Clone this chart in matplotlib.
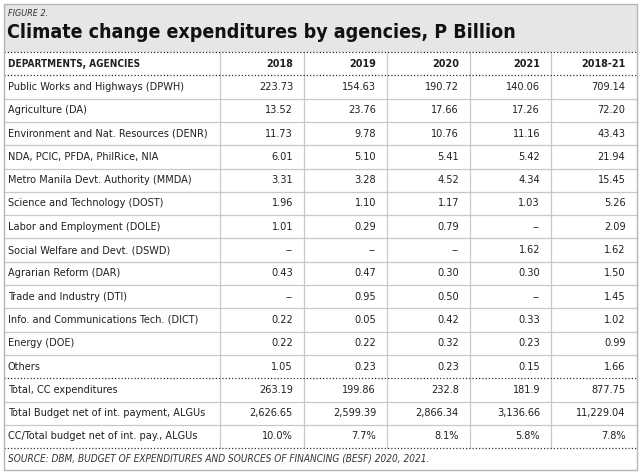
import matplotlib
matplotlib.use("Agg")
import matplotlib.pyplot as plt
from matplotlib import font_manager as fm
from matplotlib.patches import Rectangle

# ---------------- data ----------------
title = "Climate change expenditures by agencies, P Billion"
figure_label = "FIGURE 2."
source = "SOURCE: DBM, BUDGET OF EXPENDITURES AND SOURCES OF FINANCING (BESF) 2020, 2021."
col_headers = ["DEPARTMENTS, AGENCIES", "2018", "2019", "2020", "2021", "2018-21"]
agencies = [
    "Public Works and Highways (DPWH)",
    "Agriculture (DA)",
    "Environment and Nat. Resources (DENR)",
    "NDA, PCIC, PFDA, PhilRice, NIA",
    "Metro Manila Devt. Authority (MMDA)",
    "Science and Technology (DOST)",
    "Labor and Employment (DOLE)",
    "Social Welfare and Devt. (DSWD)",
    "Agrarian Reform (DAR)",
    "Trade and Industry (DTI)",
    "Info. and Communications Tech. (DICT)",
    "Energy (DOE)",
    "Others",
    "Total, CC expenditures",
    "Total Budget net of int. payment, ALGUs",
    "CC/Total budget net of int. pay., ALGUs",
]
v2018 = ["223.73", "13.52", "11.73", "6.01", "3.31", "1.96", "1.01", "--", "0.43", "--",
         "0.22", "0.22", "1.05", "263.19", "2,626.65", "10.0%"]
v2019 = ["154.63", "23.76", "9.78", "5.10", "3.28", "1.10", "0.29", "--", "0.47", "0.95",
         "0.05", "0.22", "0.23", "199.86", "2,599.39", "7.7%"]
v2020 = ["190.72", "17.66", "10.76", "5.41", "4.52", "1.17", "0.79", "--", "0.30", "0.50",
         "0.42", "0.32", "0.23", "232.8", "2,866.34", "8.1%"]
v2021 = ["140.06", "17.26", "11.16", "5.42", "4.34", "1.03", "--", "1.62", "0.30", "--",
         "0.33", "0.23", "0.15", "181.9", "3,136.66", "5.8%"]
v1821 = ["709.14", "72.20", "43.43", "21.94", "15.45", "5.26", "2.09", "1.62", "1.50", "1.45",
         "1.02", "0.99", "1.66", "877.75", "11,229.04", "7.8%"]
columns = [v2018, v2019, v2020, v2021, v1821]

# ---------------- fonts ----------------
def _w(f):
    w = f.weight
    if isinstance(w, str):
        w = fm.weight_dict.get(w, 400)
    return int(w)

def _narrow(f):
    s = f.stretch
    if isinstance(s, str):
        s = fm.stretch_dict.get(s, 500) if hasattr(fm, "stretch_dict") else 500
    return ("Narrow" in f.name or "Condensed" in f.name or "Cond" in f.name
            or (isinstance(s, (int, float)) and s < 500))

def pick(bold, prefer_narrow=True, italic=False):
    fonts = [f for f in fm.fontManager.ttflist
             if (f.style != "normal") == italic]
    want = (lambda w: w >= 600) if bold else (lambda w: w <= 400)
    if prefer_narrow:
        c = [f for f in fonts if _narrow(f) and want(_w(f))]
        if c:
            c.sort(key=lambda f: abs(_w(f) - (700 if bold else 350)))
            return c[0].fname
    for fam in ["Roboto", "Liberation Sans", "Lato", "DejaVu Sans"]:
        c = [f for f in fonts if f.name == fam and want(_w(f))]
        if c:
            c.sort(key=lambda f: abs(_w(f) - (700 if bold else 350)))
            return c[0].fname
    return None

f_reg = pick(False)
f_bold = pick(True)
f_ital = pick(False, italic=True) or f_reg

def fp(path, size):
    if path:
        return fm.FontProperties(fname=path, size=size)
    return fm.FontProperties(size=size)

# ---------------- layout (pixels) ----------------
W, H = 640, 472
fig = plt.figure(figsize=(W / 100, H / 100), dpi=100)
ax = fig.add_axes([0, 0, 1, 1])
ax.set_xlim(0, W)
ax.set_ylim(H, 0)
ax.axis("off")
renderer = fig.canvas.get_renderer()

def fit_size(text, path, target_px, base=10.0):
    t = ax.text(0, 0, text, fontproperties=fp(path, base))
    w = t.get_window_extent(renderer).width
    t.remove()
    return base * target_px / w

left, right = 3.5, 636.5
top, band_bottom = 3.5, 52.0
row_h = 23.3
n_rows = len(agencies) + 1
table_bottom = band_bottom + n_rows * row_h
bottom = 469.5
col_lines = [220, 304, 387, 470, 551]
col_rights = col_lines[1:] + [right]
pad = 11

text_color = "#231f20"
grid_color = "#c8c8c8"

body_size = fit_size(agencies[2], f_reg, 200)
title_size = fit_size(title, f_bold, 505)
head_size = fit_size(col_headers[0], f_bold, 131)
small_size = fit_size(source, f_ital, 420)
fig_size = fit_size(figure_label, f_ital, 40)

# title band
ax.add_patch(Rectangle((left, top), right - left, band_bottom - top,
                       facecolor="#e6e6e6", edgecolor="none", zorder=0))
# outer frame
ax.add_patch(Rectangle((left, top), right - left, bottom - top,
                       facecolor="none", edgecolor="#b5b5b5", lw=1.0, zorder=3))

ax.text(8, 14, figure_label, fontproperties=fp(f_ital, fig_size),
        color="#333333", va="center", ha="left")
ax.text(7, 33, title, fontproperties=fp(f_bold, title_size),
        color="#111111", va="center", ha="left")

# column separators
for x in col_lines:
    ax.plot([x, x], [band_bottom, table_bottom], color=grid_color, lw=0.9, zorder=1)

# row separators
dotted_after = {0, n_rows - 4, n_rows - 1}
for i in range(n_rows + 1):
    y = band_bottom + i * row_h
    if i == 0 or (i - 1) in dotted_after:
        ax.plot([left, right], [y, y], color="#333333", lw=0.9,
                linestyle=(0, (1, 1.6)), zorder=2)
    else:
        ax.plot([left, right], [y, y], color=grid_color, lw=0.9, zorder=1)

# header row
yc = band_bottom + 0.5 * row_h
ax.text(8, yc, col_headers[0], fontproperties=fp(f_bold, head_size),
        color=text_color, va="center", ha="left")
for j, h in enumerate(col_headers[1:]):
    ax.text(col_rights[j] - pad, yc, h, fontproperties=fp(f_bold, head_size * 1.08),
            color=text_color, va="center", ha="right")

# body rows
for i, name in enumerate(agencies):
    yc = band_bottom + (i + 1.5) * row_h
    ax.text(8, yc, name, fontproperties=fp(f_reg, body_size), color=text_color,
            va="center", ha="left")
    for j, col in enumerate(columns):
        ax.text(col_rights[j] - pad, yc, col[i], fontproperties=fp(f_reg, body_size),
                color=text_color, va="center", ha="right")

# source
ax.text(8, (table_bottom + bottom) / 2, source, fontproperties=fp(f_ital, small_size),
        color="#333333", va="center", ha="left")

fig.savefig("out.png", dpi=100, facecolor="white")
